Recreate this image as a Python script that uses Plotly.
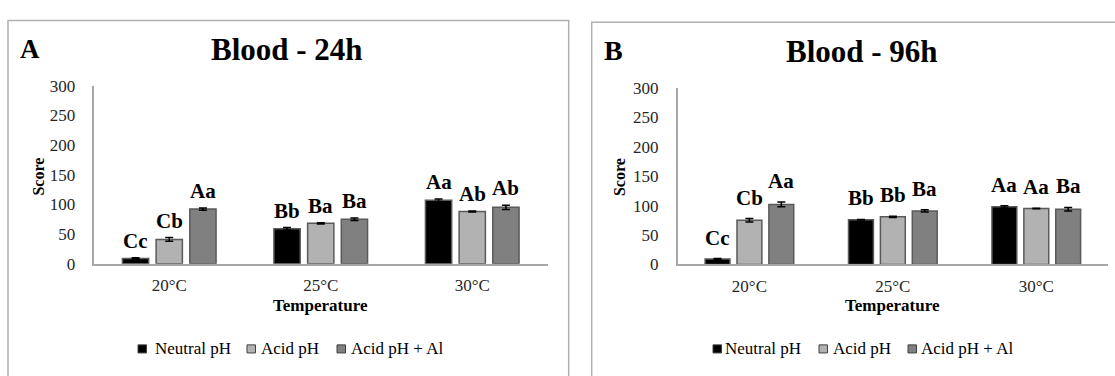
import plotly.graph_objects as go

# ---------------- data ----------------
categories = ["20°C", "25°C", "30°C"]
series_names = ["Neutral pH", "Acid pH", "Acid pH + Al"]

# Panel A : Blood - 24h
a_neutral = [9, 59, 107]
a_acid = [41, 68, 88]
a_al = [92, 75, 95]
a_neutral_err = [1, 2, 2]
a_acid_err = [3, 1, 1]
a_al_err = [2, 2, 3.5]
a_neutral_lbl = ["Cc", "Bb", "Aa"]
a_acid_lbl = ["Cb", "Ba", "Ab"]
a_al_lbl = ["Aa", "Ba", "Ab"]

# Panel B : Blood - 96h
b_neutral = [9, 76, 98]
b_acid = [75, 81, 95]
b_al = [102, 91, 94]
b_neutral_err = [1, 0.5, 2]
b_acid_err = [3, 1, 0.5]
b_al_err = [4, 2, 3]
b_neutral_lbl = ["Cc", "Bb", "Aa"]
b_acid_lbl = ["Cb", "Bb", "Aa"]
b_al_lbl = ["Aa", "Ba", "Ba"]

y_ticks = [0, 50, 100, 150, 200, 250, 300]

# ---------------- styling ----------------
W, H = 1115, 376
SERIF = "Liberation Serif"
fills = ["#000000", "#b2b2b2", "#808080"]
outline = "#5a5a5a"
axis_col = "#a6a6a6"
BARGAP = 0.333
GROUPGAP = 0.22


def px(x):
    return x / W


def py(y):
    return 1 - y / H


fig = go.Figure()

panels = [
    dict(xa="x", ya="y",
         vals=[a_neutral, a_acid, a_al],
         errs=[a_neutral_err, a_acid_err, a_al_err],
         lbls=[a_neutral_lbl, a_acid_lbl, a_al_lbl],
         lblshift=3),
    dict(xa="x2", ya="y2",
         vals=[b_neutral, b_acid, b_al],
         errs=[b_neutral_err, b_acid_err, b_al_err],
         lbls=[b_neutral_lbl, b_acid_lbl, b_al_lbl],
         lblshift=7),
]

annotations = []
for p in panels:
    for i, name in enumerate(series_names):
        fig.add_trace(go.Bar(
            x=categories, y=p["vals"][i], name=name,
            xaxis=p["xa"], yaxis=p["ya"],
            marker=dict(color=fills[i], line=dict(color=outline, width=1.5)),
            error_y=dict(type="data", array=p["errs"][i], color="#000000",
                         thickness=1.5, width=4),
            showlegend=False,
        ))
        slot = (1 - BARGAP) / 3
        for j, cat in enumerate(categories):
            annotations.append(dict(
                x=j + (i - 1) * slot, y=p["vals"][i][j] + p["errs"][i][j],
                xref=p["xa"], yref=p["ya"], text="<b>" + p["lbls"][i][j] + "</b>",
                showarrow=False, yanchor="bottom", xanchor="center",
                yshift=p["lblshift"],
                font=dict(family=SERIF, size=21, color="#000000"),
            ))

axis_common = dict(showline=True, linecolor=axis_col, linewidth=1.5,
                   showgrid=False, zeroline=False, ticks="",
                   tickfont=dict(family=SERIF, size=17, color="#262626"))

fig.update_layout(
    width=W, height=H,
    margin=dict(l=0, r=0, t=0, b=0),
    paper_bgcolor="white", plot_bgcolor="white",
    font=dict(family=SERIF),
    barmode="group", bargap=BARGAP, bargroupgap=GROUPGAP,
    showlegend=False,
    xaxis=dict(domain=[px(93.5), px(548)], anchor="y", ticklabelstandoff=5, **axis_common),
    yaxis=dict(domain=[py(268.3), py(80.7)], anchor="x", range=[0, 300],
               tickvals=y_ticks, ticklabelstandoff=13, **axis_common),
    xaxis2=dict(domain=[px(677.7), px(1108)], anchor="y2", ticklabelstandoff=5, **axis_common),
    yaxis2=dict(domain=[py(269), py(83.3)], anchor="x2", range=[0, 300],
                tickvals=y_ticks, ticklabelstandoff=14, **axis_common),
)

# panel frames
shapes = [
    dict(type="rect", xref="paper", yref="paper", x0=px(8), x1=px(568.7), y0=py(430), y1=py(12),
         line=dict(color="#b0b0b0", width=1.5), fillcolor="rgba(0,0,0,0)", layer="below"),
    dict(type="rect", xref="paper", yref="paper", x0=px(591.7), x1=px(1140), y0=py(430), y1=py(14),
         line=dict(color="#b0b0b0", width=1.5), fillcolor="rgba(0,0,0,0)", layer="below"),
]


def text_ann(x, y, text, size, bold=True, angle=0, xanchor="center", color="#000000"):
    return dict(x=px(x), y=py(y), xref="paper", yref="paper",
                text=("<b>" + text + "</b>") if bold else text, showarrow=False,
                xanchor=xanchor, yanchor="middle", textangle=angle,
                font=dict(family=SERIF, size=size, color=color))


# titles / axis titles
annotations += [
    text_ann(29.5, 42, "A", 27),
    text_ann(286.7, 43, "Blood - 24h", 31),
    text_ann(613, 44, "B", 28),
    text_ann(862.3, 45, "Blood - 96h", 31),
    text_ann(38.5, 177, "Score", 16, angle=-90),
    text_ann(619, 177, "Score", 16, angle=-90),
    text_ann(320.7, 312, "Temperature", 17),
    text_ann(892.9, 312, "Temperature", 17),
]

# custom legends (square + text)
legend_layout = [
    ([138, 247, 337], [153, 259, 349]),
    ([713, 819, 908], [723, 830.7, 919]),
]
sq = 8.5
ly = 358
for sq_x, tx_x in legend_layout:
    for i, name in enumerate(series_names):
        shapes.append(dict(type="rect", xref="paper", yref="paper",
                           x0=px(sq_x[i]), x1=px(sq_x[i] + sq),
                           y0=py(ly + sq / 2), y1=py(ly - sq / 2),
                           fillcolor=fills[i], line=dict(color="#404040", width=1)))
        annotations.append(text_ann(tx_x[i], ly, name, 17, bold=False, xanchor="left"))

fig.update_layout(shapes=shapes, annotations=annotations)

fig.write_html("out.html", config={"displayModeBar": False},
               post_script="document.body.style.margin='0';")
